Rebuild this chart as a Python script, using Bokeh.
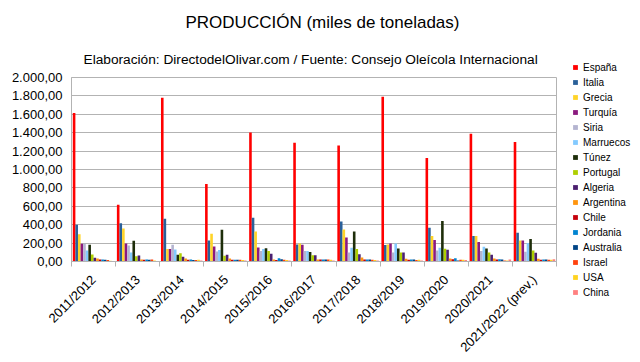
import math
from bokeh.plotting import figure
from bokeh.models import (Range1d, FixedTicker, Legend, LegendItem, Title,
                          ColumnDataSource)
from bokeh.transform import dodge
from bokeh.embed import file_html
from bokeh.resources import INLINE

# ---------------- data ----------------
campanas = ["2011/2012", "2012/2013", "2013/2014", "2014/2015", "2015/2016",
            "2016/2017", "2017/2018", "2018/2019", "2019/2020", "2020/2021",
            "2021/2022 (prev.)"]

paises = ["España", "Italia", "Grecia", "Turquía", "Siria", "Marruecos",
          "Túnez", "Portugal", "Algeria", "Argentina", "Chile", "Jordania",
          "Australia", "Israel", "USA", "China"]

espana    = [1615, 618, 1781, 842, 1401, 1290, 1262, 1790, 1125, 1389, 1300]
italia    = [399, 415, 465, 229, 476, 185, 436, 178, 367, 276, 313]
grecia    = [295, 360, 135, 302, 327, 196, 349, 185, 276, 276, 229]
turquia   = [193, 196, 135, 164, 153, 182, 262, 196, 233, 211, 229]
siria     = [193, 175, 182, 109, 113, 113, 98, 98, 120, 113, 105]
marruecos = [120, 98, 131, 124, 135, 113, 149, 196, 149, 160, 200]
tunez     = [182, 225, 73, 345, 145, 102, 327, 142, 440, 142, 244]
portugal  = [76, 58, 91, 62, 113, 69, 135, 98, 138, 98, 120]
algeria   = [40, 65, 51, 73, 84, 69, 80, 98, 127, 73, 95]
argentina = [33, 22, 33, 33, 22, 22, 44, 29, 33, 33, 29]
chile     = [22, 18, 18, 18, 15, 22, 22, 18, 25, 22, 18]
jordania  = [22, 22, 22, 18, 36, 22, 22, 22, 36, 25, 22]
australia = [18, 18, 15, 18, 25, 22, 22, 22, 11, 22, 22]
israel    = [15, 22, 15, 18, 18, 22, 18, 15, 18, 11, 18]
usa       = [8, 11, 18, 15, 15, 18, 15, 18, 18, 11, 18]
china     = [5, 5, 11, 11, 11, 11, 11, 11, 15, 22, 25]

y_ticks = [0, 200, 400, 600, 800, 1000, 1200, 1400, 1600, 1800, 2000]
y_tick_labels = ["0,00", "200,00", "400,00", "600,00", "800,00", "1.000,00",
                 "1.200,00", "1.400,00", "1.600,00", "1.800,00", "2.000,00"]

colores = ["#ff0000", "#2a6099", "#ffd428", "#8b1a7e", "#b4b4d0", "#83caff",
           "#1e2e0a", "#aecf00", "#4b1f6f", "#ff950e", "#c5000b", "#0084d1",
           "#004586", "#ff420e", "#ffd320", "#ff8080"]

series = [espana, italia, grecia, turquia, siria, marruecos, tunez, portugal,
          algeria, argentina, chile, jordania, australia, israel, usa, china]

# ---------------- figure ----------------
FONT = "Liberation Sans"
n_cat = len(campanas)
n_ser = len(paises)

data = {"xc": [i + 0.5 for i in range(n_cat)]}
for k, s in enumerate(series):
    data["s%d" % k] = s
src = ColumnDataSource(data)

p = figure(frame_width=485, frame_height=184,
           x_range=Range1d(0, n_cat), y_range=Range1d(0, 2000),
           output_backend="svg", toolbar_location=None,
           min_border_left=71, min_border_right=84,
           min_border_top=77, min_border_bottom=101)

p.background_fill_color = "white"
p.border_fill_color = "white"
p.outline_line_color = "#b3b3b3"

bw = 1.0 / (n_ser + 1)
renderers = []
for k in range(n_ser):
    off = (k + 1) * bw - 0.5
    r = p.vbar(x=dodge("xc", off, range=p.x_range), top="s%d" % k, width=bw,
               source=src, fill_color=colores[k], line_color=None)
    renderers.append(r)

# axes
p.xgrid.grid_line_color = None
p.ygrid.grid_line_color = "#b3b3b3"
p.ygrid.ticker = FixedTicker(ticks=y_ticks)

p.yaxis.ticker = FixedTicker(ticks=y_ticks)
p.yaxis.major_label_overrides = {t: l for t, l in zip(y_ticks, y_tick_labels)}
p.yaxis.axis_line_color = "#b3b3b3"
p.yaxis.major_tick_line_color = None
p.yaxis.major_tick_out = 0
p.yaxis.major_tick_in = 0
p.yaxis.minor_tick_line_color = None
p.yaxis.major_label_text_font = FONT
p.yaxis.major_label_text_font_size = "13px"
p.yaxis.major_label_text_color = "#000000"
p.yaxis.major_label_standoff = 9

centers = [i + 0.5 for i in range(n_cat)]
bounds = [float(i) for i in range(n_cat + 1)]
p.xaxis.ticker = FixedTicker(ticks=centers, minor_ticks=bounds)
p.xaxis.major_label_overrides = {c: l for c, l in zip(centers, campanas)}
p.xaxis.axis_line_color = "#b3b3b3"
p.xaxis.major_tick_line_color = None
p.xaxis.minor_tick_line_color = "#b3b3b3"
p.xaxis.minor_tick_in = 0
p.xaxis.minor_tick_out = 5
p.xaxis.major_label_orientation = math.pi / 4
p.xaxis.major_label_text_font = FONT
p.xaxis.major_label_text_font_size = "13px"
p.xaxis.major_label_text_color = "#000000"
p.xaxis.major_label_standoff = 10

# legend (right panel)
items = [LegendItem(label=n, renderers=[r]) for n, r in zip(paises, renderers)]
legend = Legend(items=items, location="center_left", orientation="vertical",
                title=" ", title_text_font_size="10px", title_standoff=10,
                glyph_width=6, glyph_height=6, label_height=12, spacing=3,
                padding=0, margin=16, border_line_color=None,
                background_fill_alpha=0, label_standoff=5,
                label_text_font=FONT, label_text_font_size="10px",
                label_text_color="#000000")
p.add_layout(legend, "right")

# titles (above panel)
sub = Title(text="Elaboración: DirectodelOlivar.com / Fuente: Consejo Oleícola Internacional",
            align="left", offset=12, text_font=FONT, text_font_size="13.7px",
            text_font_style="normal", text_color="#000000", standoff=22)
main = Title(text="PRODUCCIÓN (miles de toneladas)", align="left", offset=114,
             text_font=FONT, text_font_size="17px", text_font_style="normal",
             text_color="#000000", standoff=13)
p.add_layout(sub, "above")
p.add_layout(main, "above")

open("out.html", "w").write(file_html(p, INLINE))
